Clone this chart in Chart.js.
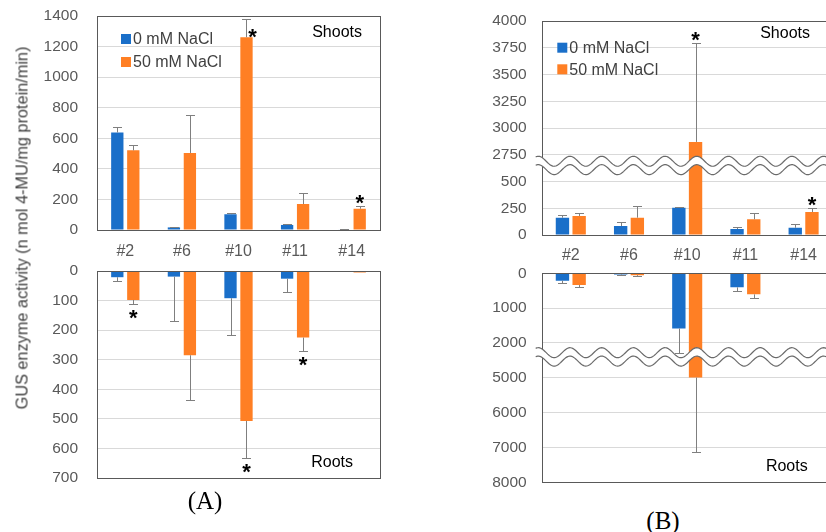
<!DOCTYPE html>
<html>
<head>
<meta charset="utf-8">
<script src="https://cdn.jsdelivr.net/npm/chart.js@4.4.1/dist/chart.umd.min.js"></script>
<style>
body { margin: 0; background: #fff; }
#wrap { position: relative; width: 826px; height: 532px; overflow: hidden; background: #fff; font-family: "Liberation Sans", Arial, sans-serif; }
canvas { position: absolute; }
.ytitle { position: absolute; left: 22px; top: 228px; transform: translate(-50%, -50%) rotate(-90deg); white-space: nowrap; font-size: 16.3px; color: #404040; }
.plab { position: absolute; transform: translate(-50%, -50%); font-family: "Liberation Serif", "Times New Roman", serif; font-size: 25px; color: #000; }
</style>
</head>
<body>
<div id="wrap">
  <canvas id="aShoot" width="400" height="272" style="left:0;top:0"></canvas>
  <canvas id="aRoot" width="400" height="245" style="left:0;top:250px"></canvas>
  <canvas id="bShoot" width="380" height="272" style="left:470px;top:0"></canvas>
  <canvas id="bRoot" width="380" height="245" style="left:470px;top:250px"></canvas>
  <div class="ytitle">GUS enzyme activity (n mol 4-MU/mg protein/min)</div>
  <div class="plab" style="left:205px;top:501px">(A)</div>
  <div class="plab" style="left:663px;top:521px">(B)</div>
</div>
<script>
const categories = ['#2', '#6', '#10', '#11', '#14'];
const seriesNames = ['0 mM NaCl', '50 mM NaCl'];
const blue = '#1a6fc9';
const orange = '#ff7f24';

// (A) shoots
const aShoot0 = [638, 17, 103, 33, 3];
const aShoot0Sd = [38, 5, 10, 4, 1];
const aShoot50 = [521, 504, 1261, 170, 139];
const aShoot50Sd = [35, 248, 117, 74, 16];
const aShootStar50 = [0, 0, 1, 0, 1];

// (A) roots
const aRoot0 = [21, 19, 92, 26, 2];
const aRoot0Sd = [13, 150, 124, 45, 0];
const aRoot50 = [98, 285, 507, 225, 5];
const aRoot50Sd = [13, 151, 126, 44, 0];
const aRootStar50 = [1, 0, 1, 1, 0];

// (B) shoots
const bShoot0 = [162, 84, 255, 56, 68];
const bShoot0Sd = [25, 40, 7, 22, 32];
const bShoot50 = [178, 162, 2870, 147, 215];
const bShoot50Sd = [25, 112, 923, 62, 37];
const bShootStar50 = [0, 0, 1, 0, 1];
const bShootTicks = [0, 250, 500, 2750, 3000, 3250, 3500, 3750, 4000];

// (B) roots
const bRoot0 = [213, 35, 1585, 404, 15];
const bRoot0Sd = [77, 10, 1300, 96, 0];
const bRoot50 = [337, 55, 4980, 605, 20];
const bRoot50Sd = [66, 10, 2153, 115, 0];
const bRootTicks = [0, 1000, 2000, 5000, 6000, 7000, 8000];

const brokenTicks = { bShoot: bShootTicks, bRoot: bRootTicks };

// linear scale with a break: every tick interval gets the same height
class BrokenScale extends Chart.LinearScale {
  determineDataLimits() {
    this._tv = brokenTicks[this.options.tickKey];
    this.min = this._tv[0];
    this.max = this._tv[this._tv.length - 1];
  }
  buildTicks() {
    return this._tv.map(v => ({ value: v }));
  }
  getPixelForValue(v) {
    const t = this._tv, n = t.length - 1;
    let u;
    if (v <= t[0]) u = (v - t[0]) / (t[1] - t[0]);
    else if (v >= t[n]) u = n + (v - t[n]) / (t[n] - t[n - 1]);
    else {
      let i = 0;
      while (v > t[i + 1]) i++;
      u = i + (v - t[i]) / (t[i + 1] - t[i]);
    }
    return this.getPixelForDecimal(u / n);
  }
  getValueForPixel(p) {
    const t = this._tv, n = t.length - 1;
    const u = Math.max(0, Math.min(n, this.getDecimalForPixel(p) * n));
    const i = Math.min(n - 1, Math.floor(u));
    return t[i] + (u - i) * (t[i + 1] - t[i]);
  }
}
BrokenScale.id = 'broken';
Chart.register(BrokenScale);

function wavePath(ctx, x0, x1, yc, phase) {
  ctx.moveTo(x0, yc - 5 * Math.cos(2 * Math.PI * (x0 - phase) / 31.7));
  for (let x = x0; x <= x1; x += 1) {
    ctx.lineTo(x, yc - 5 * Math.cos(2 * Math.PI * (x - phase) / 31.7));
  }
}

const decor = {
  id: 'decor',
  afterDatasetsDraw(chart, args, o) {
    const { ctx, chartArea: a } = chart;
    const y = chart.scales.y;
    ctx.save();

    // frame
    ctx.strokeStyle = '#595959';
    ctx.lineWidth = 1;
    ctx.strokeRect(Math.round(a.left) + 0.5, Math.round(a.top) + 0.5,
      Math.round(a.right - a.left), Math.round(a.bottom - a.top));

    // axis break
    if (y.type === 'broken') {
      const t = y._tv;
      let bi = 0;
      for (let i = 1; i < t.length - 1; i++) if (t[i + 1] - t[i] > t[bi + 1] - t[bi]) bi = i;
      const p1 = y.getPixelForValue(t[bi]), p2 = y.getPixelForValue(t[bi + 1]);
      const yc = Math.min(p1, p2) + 0.4 * Math.abs(p2 - p1);
      const x0 = a.left - 6, x1 = chart.width;
      const ph = a.left + 28.3;
      ctx.beginPath();
      wavePath(ctx, x0, x1, yc - 4.2, ph);
      for (let x = x1; x >= x0; x -= 1) ctx.lineTo(x, yc + 4.2 - 5 * Math.cos(2 * Math.PI * (x - ph) / 31.7));
      ctx.closePath();
      ctx.fillStyle = '#fff';
      ctx.fill();
      ctx.strokeStyle = '#6a6a6a';
      ctx.lineWidth = 1.2;
      ctx.beginPath(); wavePath(ctx, x0, x1, yc - 4.2, ph); ctx.stroke();
      ctx.beginPath(); wavePath(ctx, x0, x1, yc + 4.2, ph); ctx.stroke();
    }

    // error bars and stars
    chart.data.datasets.forEach((ds, di) => {
      const meta = chart.getDatasetMeta(di);
      meta.data.forEach((bar, i) => {
        const sd = ds.errors[i];
        const endPx = y.getPixelForValue(ds.data[i] + sd);
        if (sd > 0) {
          const bx = Math.round(bar.x) + 0.5;
          ctx.strokeStyle = '#7f7f7f';
          ctx.lineWidth = 1;
          ctx.beginPath();
          ctx.moveTo(bx, bar.y);
          ctx.lineTo(bx, Math.round(endPx) + 0.5);
          ctx.moveTo(bx - 4.5, Math.round(endPx) + 0.5);
          ctx.lineTo(bx + 4.5, Math.round(endPx) + 0.5);
          ctx.stroke();
        }
        if (ds.stars && ds.stars[i]) {
          let sx = bar.x, sy;
          if (o.roots) sy = endPx + 8.5;
          else {
            sy = endPx - 8.5;
            if (sy < a.top + 10) { sx += 6; sy = endPx + 11.7; }
          }
          ctx.fillStyle = '#000';
          ctx.font = 'bold 22px "Liberation Sans", Arial, sans-serif';
          ctx.textAlign = 'center';
          ctx.textBaseline = 'alphabetic';
          ctx.fillText('*', sx, sy + 0.575 * 22);
        }
      });
    });

    // legend inside plot
    if (o.legend) {
      const L = o.legend;
      ctx.font = '16px "Liberation Sans", Arial, sans-serif';
      ctx.textAlign = 'left';
      ctx.textBaseline = 'middle';
      chart.data.datasets.forEach((ds, di) => {
        const cy = a.top + L.dy + di * L.gap;
        ctx.fillStyle = ds.backgroundColor;
        ctx.fillRect(a.left + L.dx, cy - 5, 10, 10);
        ctx.fillStyle = '#404040';
        ctx.fillText(ds.label, a.left + L.dx + 12, cy + 1);
      });
    }

    // panel tag
    if (o.tag) {
      ctx.font = '16px "Liberation Sans", Arial, sans-serif';
      ctx.fillStyle = '#000';
      ctx.textAlign = 'right';
      ctx.textBaseline = 'middle';
      const ty = o.tag.fromBottom ? a.bottom - o.tag.dy : a.top + o.tag.dy;
      ctx.fillText(o.tag.text, a.right - o.tag.dx, ty);
    }
    ctx.restore();
  }
};

function makeChart(id, p) {
  const yScale = {
    reverse: !!p.roots,
    grid: { color: '#d9d9d9', drawTicks: true, tickLength: p.yGap - 3, tickColor: 'rgba(0,0,0,0)' },
    border: { display: false },
    ticks: {
      color: '#595959', padding: 3, autoSkip: false,
      font: { family: '"Liberation Sans", Arial, sans-serif', size: 15.5 },
      callback: v => String(v)
    },
    afterFit: s => { s.width = p.yW; }
  };
  if (p.broken) {
    yScale.type = 'broken';
    yScale.tickKey = p.broken;
  } else {
    yScale.type = 'linear';
    yScale.min = 0;
    yScale.max = p.max;
    yScale.ticks.stepSize = p.step;
  }
  return new Chart(document.getElementById(id), {
    type: 'bar',
    data: {
      labels: categories,
      datasets: [
        { label: seriesNames[0], data: p.d0, errors: p.e0, backgroundColor: blue, borderWidth: 0,
          barPercentage: p.barPct, categoryPercentage: p.catPct },
        { label: seriesNames[1], data: p.d1, errors: p.e1, stars: p.s1, backgroundColor: orange, borderWidth: 0,
          barPercentage: p.barPct, categoryPercentage: p.catPct }
      ]
    },
    options: {
      responsive: false,
      animation: false,
      layout: { padding: p.pad },
      plugins: {
        legend: { display: false },
        tooltip: { enabled: false },
        decor: { legend: p.legend, tag: p.tag, roots: p.roots }
      },
      scales: {
        x: {
          display: !p.roots,
          grid: { display: false },
          border: { display: false },
          ticks: { color: '#595959', font: { family: '"Liberation Sans", Arial, sans-serif', size: 16 }, padding: p.xPad },
          afterFit: s => { s.height = p.xH; }
        },
        y: yScale
      }
    },
    plugins: [decor]
  });
}

makeChart('aShoot', {
  d0: aShoot0, e0: aShoot0Sd, d1: aShoot50, e1: aShoot50Sd, s1: aShootStar50,
  barPct: 0.77, catPct: 0.565, pad: { top: 16, right: 20, left: 0, bottom: 0 },
  xH: 42, xPad: 4, yW: 97, yGap: 19, max: 1400, step: 200,
  legend: { dx: 24, dy: 23, gap: 23 }, tag: { text: 'Shoots', dx: 18, dy: 17 }
});

makeChart('aRoot', {
  d0: aRoot0, e0: aRoot0Sd, d1: aRoot50, e1: aRoot50Sd, s1: aRootStar50, roots: true,
  barPct: 0.77, catPct: 0.565, pad: { top: 21, right: 20, left: 0, bottom: 17 },
  xH: 0, xPad: 0, yW: 97, yGap: 19, max: 700, step: 100,
  tag: { text: 'Roots', dx: 27, dy: 15, fromBottom: true }
});

makeChart('bShoot', {
  d0: bShoot0, e0: bShoot0Sd, d1: bShoot50, e1: bShoot50Sd, s1: bShootStar50,
  barPct: 0.8, catPct: 0.574, pad: { top: 21, right: 17.3, left: 0, bottom: 0 },
  xH: 37, xPad: 3, yW: 71.7, yGap: 15, broken: 'bShoot',
  legend: { dx: 15.6, dy: 26.7, gap: 21.6 }, tag: { text: 'Shoots', dx: 22.7, dy: 13 }
});

makeChart('bRoot', {
  d0: bRoot0, e0: bRoot0Sd, d1: bRoot50, e1: bRoot50Sd, s1: [0, 0, 0, 0, 0], roots: true,
  barPct: 0.8, catPct: 0.574, pad: { top: 23.3, right: 17.3, left: 0, bottom: 12.7 },
  xH: 0, xPad: 0, yW: 71.7, yGap: 15, broken: 'bRoot',
  tag: { text: 'Roots', dx: 25, dy: 16, fromBottom: true }
});
</script>
</body>
</html>
